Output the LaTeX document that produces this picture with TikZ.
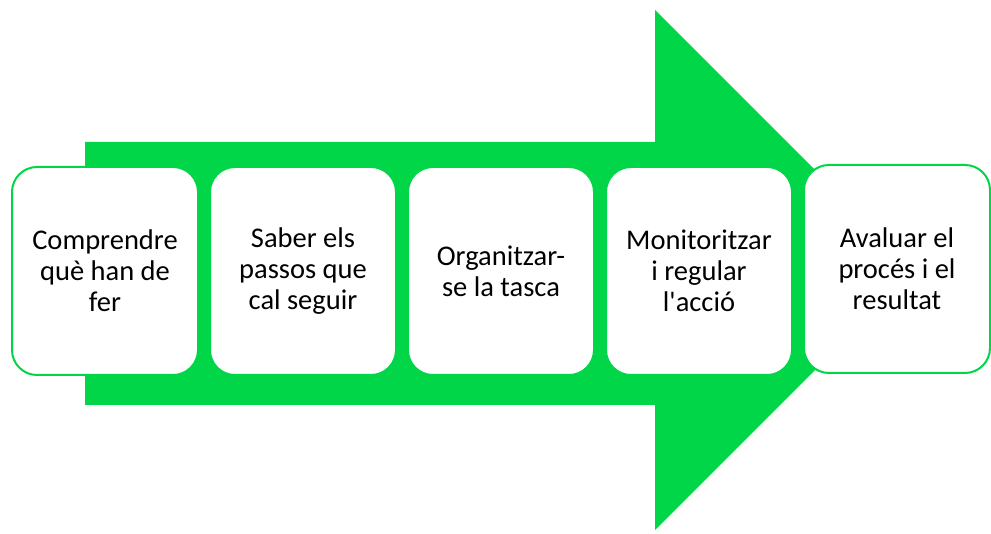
\documentclass[tikz,border=0pt]{standalone}
\usepackage{fontspec}
\setmainfont{Carlito}
\usepackage{tikz}
\usetikzlibrary{calc}
\definecolor{arrowgreen}{RGB}{0,214,72}

\begin{document}
\begin{tikzpicture}[x=1pt,y=1pt,
    stepbox/.style={draw=arrowgreen,line width=2pt,fill=white,rounded corners=25pt,
      minimum width=186pt,minimum height=208pt,inner sep=0pt,align=center,
      font=\fontsize{28.5pt}{31pt}\selectfont}]
                      \useasboundingbox (0,0) rectangle (991,534);
                      % the big arrow behind the boxes
                      \fill[arrowgreen] (85,392) -- (655,392) -- (655,524) -- (915,264)
                            -- (655,4) -- (655,129) -- (85,129) -- cycle;
                      \node[stepbox](s1)at(105,263){Comprendre\\què han de\\fer};
                      \node[stepbox](s2)at(303,263){Saber els\\passos que\\cal seguir};
                      \node[stepbox](s3)at(501,263){Organitzar-\\se la tasca};
                      \node[stepbox](s4)at(699,263){Monitoritzar\\i regular\\l\textquotesingle acció};
                      \node[stepbox](s5)at(897,265){Avaluar el\\procés i el\\resultat};
                  \end{tikzpicture}
\end{document}
